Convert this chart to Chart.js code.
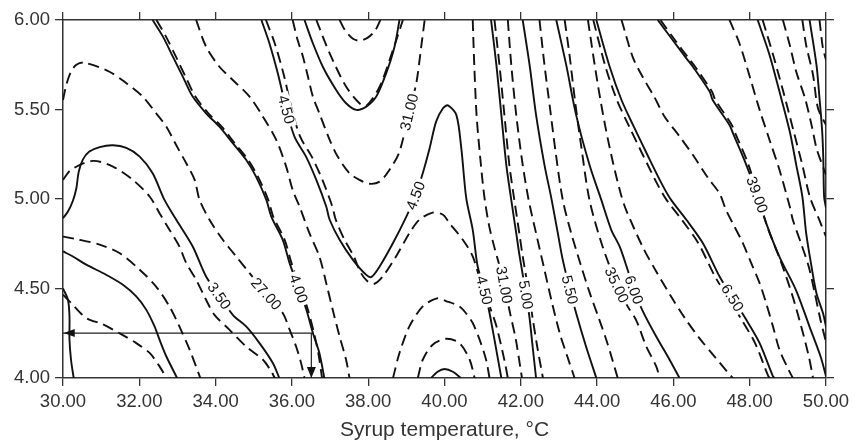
<!DOCTYPE html>
<html><head><meta charset="utf-8">
<script src="https://cdn.jsdelivr.net/npm/chart.js@4.4.0/dist/chart.umd.min.js"></script>
<style>html,body{margin:0;padding:0;background:#fff}canvas{display:block}</style>
</head><body>
<canvas id="c" width="861" height="444"></canvas>
<script>
// ---- axes ----
const xTickValues = [30,32,34,36,38,40,42,44,46,48,50];
const yTickValues = [4.0,4.5,5.0,5.5,6.0];
const xTitle = 'Syrup temperature, \u00B0C';

// ---- solid contours (response 1) ----
const s250 = [[30.0,4.50],[30.13,4.437],[30.17,4.344],[30.17,4.214],[30.21,4.102],[30.28,4.0]];
const s300 = [[30.0,4.707],[30.26,4.679],[30.61,4.633],[31.13,4.577],[31.57,4.521],[31.92,4.456],[32.18,4.382],[32.40,4.288],[32.53,4.214],[32.71,4.12],[32.99,4.0]];
const s350 = [[30.0,4.893],[30.13,4.93],[30.26,4.99],[30.35,5.06],[30.41,5.15],[30.52,5.22],[30.69,5.265],[30.96,5.29],[31.31,5.30],[31.66,5.285],[32.01,5.237],[32.35,5.144],[32.66,4.995],[32.97,4.884],[33.40,4.735],[33.75,4.567],[34.10,4.46],[34.45,4.353],[34.80,4.288],[35.15,4.195],[35.50,4.084],[35.67,4.0]];
const s400 = [[32.35,6.0],[32.62,5.907],[32.88,5.795],[33.14,5.684],[33.40,5.572],[33.75,5.479],[34.10,5.404],[34.45,5.312],[34.80,5.219],[35.06,5.125],[35.33,4.995],[35.46,4.902],[35.76,4.772],[35.94,4.642],[36.18,4.50],[36.38,4.381],[36.55,4.251],[36.72,4.14],[36.85,4.0]];
const s450 = [[35.20,6.0],[35.41,5.870],[35.63,5.702],[35.86,5.498],[36.07,5.347],[36.37,5.237],[36.64,5.107],[36.90,4.958],[36.99,4.884],[37.25,4.772],[37.60,4.660],[37.95,4.576],[38.09,4.565],[38.30,4.623],[38.65,4.754],[39.00,4.902],[39.24,5.018],[39.43,5.144],[39.61,5.284],[39.78,5.432],[39.96,5.507],[40.09,5.523],[40.31,5.470],[40.44,5.284],[40.57,5.005],[40.74,4.828],[40.87,4.623],[41.05,4.493],[41.18,4.363],[41.31,4.214],[41.49,4.0]];
const s500a = [[36.33,6.0],[36.55,5.870],[36.81,5.739],[37.16,5.609],[37.42,5.535],[37.69,5.498],[37.95,5.516],[38.21,5.572],[38.47,5.702],[38.69,5.851],[38.82,6.0]];
const s500b = [[39.65,4.0],[39.82,4.035],[40.0,4.05],[40.22,4.035],[40.43,4.0]];
const s500 = [[41.22,6.0],[41.36,5.749],[41.49,5.470],[41.62,5.191],[41.75,4.995],[41.88,4.809],[41.97,4.679],[42.14,4.465],[42.23,4.335],[42.31,4.176],[42.40,4.0]];
const s550 = [[42.05,6.0],[42.23,5.749],[42.40,5.470],[42.62,5.191],[42.80,5.005],[42.97,4.809],[43.10,4.660],[43.29,4.493],[43.45,4.363],[43.71,4.176],[43.98,4.0]];
const s600 = [[42.93,6.0],[43.19,5.749],[43.45,5.470],[43.80,5.191],[44.11,4.995],[44.37,4.828],[44.59,4.735],[44.80,4.605],[44.97,4.493],[45.20,4.372],[45.55,4.232],[45.90,4.102],[46.16,4.0]];
const s650 = [[43.98,6.0],[44.33,5.739],[44.64,5.553],[44.94,5.414],[45.32,5.246],[45.71,5.079],[45.94,4.995],[46.34,4.884],[46.77,4.754],[47.21,4.567],[47.55,4.449],[47.91,4.325],[48.26,4.195],[48.61,4.009],[48.65,4.0]];
const s700 = [[45.59,6.0],[45.98,5.888],[46.34,5.786],[46.51,5.739],[46.95,5.600],[47.03,5.553],[47.47,5.414],[47.56,5.368],[47.91,5.191],[48.20,5.024],[48.43,4.867],[48.78,4.677],[49.21,4.493],[49.57,4.286],[49.86,4.119],[50.0,4.01]];
const s750 = [[48.21,6.0],[48.52,5.805],[48.78,5.600],[49.05,5.377],[49.22,5.191],[49.38,5.014],[49.48,4.809],[49.62,4.623],[49.75,4.474],[49.92,4.363],[50.0,4.288]];
const s800 = [[49.57,6.0],[49.75,5.749],[49.83,5.563],[49.90,5.377],[49.93,5.219],[49.95,5.014],[50.0,4.95]];

// ---- dashed contours (response 2) ----
const d27 = [[30.0,5.553],[30.09,5.64],[30.21,5.711],[30.35,5.75],[30.56,5.762],[31.22,5.711],[31.66,5.647],[32.09,5.572],[32.44,5.479],[32.71,5.404],[32.97,5.30],[33.23,5.20],[33.45,5.107],[33.58,4.995],[33.84,4.884],[34.19,4.772],[34.54,4.679],[34.89,4.586],[35.33,4.47],[35.76,4.363],[35.94,4.270],[36.11,4.176],[36.24,4.084],[36.33,4.0]];
const d25 = [[30.0,5.107],[30.21,5.163],[30.78,5.213],[31.31,5.181],[31.83,5.107],[32.27,5.014],[32.53,4.921],[32.79,4.828],[33.05,4.735],[33.23,4.642],[33.49,4.549],[33.75,4.437],[33.97,4.353],[34.36,4.270],[34.80,4.176],[35.24,4.102],[35.45,4.04],[35.55,4.0]];
const d23 = [[30.0,4.79],[30.35,4.776],[30.96,4.745],[31.48,4.698],[32.01,4.605],[32.44,4.511],[32.79,4.40],[33.05,4.288],[33.32,4.158],[33.60,4.0]];
const d21 = [[30.0,4.465],[30.21,4.42],[30.61,4.335],[31.04,4.30],[31.48,4.25],[31.92,4.195],[32.27,4.14],[32.53,4.065],[32.71,4.0]];
const d29a = [[32.45,6.0],[32.70,5.907],[32.96,5.795],[33.21,5.684],[33.47,5.572],[33.81,5.479],[34.16,5.404],[34.50,5.312],[34.85,5.219],[35.11,5.125],[35.38,4.995],[35.51,4.902],[35.81,4.772],[35.99,4.642],[36.23,4.50],[36.42,4.381],[36.58,4.251],[36.70,4.13],[36.79,4.0]];
const d29b = [[33.49,6.0],[33.75,5.851],[34.10,5.739],[34.45,5.665],[34.89,5.572],[35.24,5.460],[35.59,5.330],[35.85,5.181],[36.02,5.051],[36.20,4.958],[36.46,4.809],[36.72,4.679],[36.90,4.530],[37.07,4.381],[37.25,4.232],[37.42,4.102],[37.51,4.0]];
const d30 = [[35.32,6.0],[35.55,5.87],[35.78,5.70],[36.00,5.50],[36.22,5.347],[36.52,5.237],[36.80,5.107],[37.06,4.958],[37.15,4.884],[37.38,4.772],[37.62,4.68],[37.80,4.59],[37.98,4.54],[38.15,4.525],[38.38,4.567],[38.73,4.679],[39.08,4.809],[39.34,4.884],[39.69,4.924],[39.96,4.912],[40.13,4.865],[40.48,4.772],[40.74,4.679],[41.0,4.50],[41.2,4.39],[41.36,4.29],[41.57,4.10],[41.66,4.0]];
const d31a = [[36.02,6.0],[36.15,5.888],[36.29,5.795],[36.42,5.684],[36.55,5.572],[36.72,5.479],[36.99,5.330],[37.20,5.237],[37.51,5.144],[37.77,5.107],[38.03,5.085],[38.30,5.097],[38.56,5.163],[38.82,5.265],[39.07,5.486],[39.26,5.647],[39.39,5.851],[39.48,6.0]];
const d32 = [[36.64,6.0],[36.99,5.814],[37.42,5.628],[37.77,5.535],[37.95,5.520],[38.30,5.628],[38.65,5.833],[38.91,6.0]];
const d33 = [[37.25,6.0],[37.40,5.94],[37.60,5.895],[37.77,5.885],[37.98,5.90],[38.18,5.94],[38.32,6.0]];
const d29c = [[38.65,4.0],[38.82,4.14],[39.08,4.288],[39.43,4.40],[39.80,4.445],[40.04,4.43],[40.39,4.40],[40.57,4.36],[40.74,4.307],[40.92,4.214],[41.09,4.102],[41.18,4.0]];
const d28 = [[39.30,4.0],[39.43,4.102],[39.69,4.186],[40.04,4.219],[40.39,4.195],[40.66,4.102],[40.79,4.0]];
const d31b = [[40.74,6.0],[40.78,5.75],[40.84,5.47],[40.93,5.246],[41.04,5.02],[41.17,4.85],[41.32,4.72],[41.45,4.62],[41.57,4.521],[41.70,4.381],[41.87,4.214],[42.03,4.0]];
const d32b = [[41.31,6.0],[41.44,5.749],[41.57,5.47],[41.70,5.19],[41.83,4.995],[41.96,4.81],[42.05,4.68],[42.22,4.465],[42.31,4.335],[42.43,4.176],[42.58,4.0]];
const d33b = [[41.66,6.0],[41.75,5.749],[41.88,5.470],[42.03,5.22],[42.20,5.0],[42.40,4.809],[42.60,4.623],[42.80,4.437],[43.02,4.251],[43.22,4.12],[43.41,4.0]];
const d34 = [[42.49,6.0],[42.62,5.75],[42.77,5.50],[42.92,5.25],[43.10,4.995],[43.32,4.81],[43.56,4.64],[43.80,4.48],[44.06,4.325],[44.24,4.214],[44.40,4.102],[44.54,4.0]];
const d35 = [[43.15,6.0],[43.28,5.80],[43.42,5.55],[43.58,5.30],[43.80,4.995],[44.12,4.75],[44.52,4.521],[44.80,4.40],[45.02,4.325],[45.29,4.176],[45.55,4.065],[45.64,4.0]];
const d36 = [[43.76,6.0],[43.90,5.80],[44.05,5.60],[44.22,5.40],[44.42,5.20],[44.62,5.03],[44.76,4.939],[45.20,4.73],[45.55,4.595],[45.94,4.455],[46.30,4.335],[46.68,4.223],[47.08,4.12],[47.43,4.03],[47.56,4.0]];
const d37 = [[43.90,6.0],[44.22,5.739],[44.52,5.553],[44.82,5.414],[45.20,5.246],[45.59,5.079],[45.82,4.995],[46.22,4.884],[46.65,4.754],[47.09,4.567],[47.43,4.449],[47.79,4.325],[48.14,4.195],[48.49,4.009],[48.53,4.0]];
const d38 = [[44.64,6.0],[44.94,5.79],[45.20,5.68],[45.50,5.57],[45.77,5.46],[46.16,5.35],[46.53,5.24],[46.90,5.12],[47.21,5.03],[47.38,4.939],[47.60,4.846],[47.82,4.754],[48.04,4.642],[48.26,4.530],[48.43,4.419],[48.61,4.288],[48.78,4.158],[49.02,4.046],[49.13,4.0]];
const d39 = [[45.66,6.0],[46.04,5.888],[46.40,5.786],[46.57,5.739],[47.01,5.60],[47.10,5.553],[47.53,5.414],[47.62,5.368],[47.97,5.191],[48.20,5.024],[48.46,4.846],[48.80,4.66],[49.10,4.474],[49.35,4.288],[49.55,4.12],[49.66,4.0]];
const d40 = [[47.47,6.0],[47.73,5.870],[48.0,5.684],[48.26,5.498],[48.52,5.330],[48.78,5.163],[49.05,4.958],[49.13,4.884],[49.35,4.75],[49.55,4.62],[49.70,4.48],[49.85,4.33],[50.0,4.20]];
const d41 = [[48.34,6.0],[48.62,5.80],[48.88,5.60],[49.15,5.38],[49.38,5.19],[49.58,5.01],[49.83,4.88],[50.0,4.79]];
const d42 = [[48.87,6.0],[49.05,5.860],[49.22,5.711],[49.45,5.563],[49.62,5.414],[49.75,5.284],[49.87,5.209],[50.0,5.135]];
const d43 = [[49.38,6.0],[49.48,5.860],[49.66,5.693],[49.79,5.507],[50.0,5.414]];
const d44 = [[49.83,6.0],[49.92,5.842],[50.0,5.777]];

// ---- contour labels: text, x, y, angle(deg) ----
const contourLabels = [
  ['3.50',34.10,4.46,55],['27.00',35.33,4.47,48],['4.00',36.18,4.50,70],
  ['4.50',35.86,5.50,75],['31.00',39.07,5.486,-76],['4.50',39.24,5.02,-69],
  ['4.50',41.05,4.49,76],['31.00',41.57,4.52,80],['5.00',42.14,4.465,81],
  ['5.50',43.29,4.493,76],['35.00',44.52,4.52,65],['6.00',44.97,4.493,70],
  ['6.50',47.55,4.449,58],['39.00',48.20,5.024,70]
];

// ---- reading arrows ----
const arrowPath = [[30.0,4.251],[36.51,4.251],[36.51,4.0]];
const arrowHeads = [[30.02,4.251,'left'],[36.51,4.0,'down']];

const solidLines = [s250,s300,s350,s400,s450,s500a,s500b,s500,s550,s600,s650,s700,s750,s800];
const dashedLines = [d27,d25,d23,d21,d29a,d29b,d30,d31a,d32,d33,d29c,d28,d31b,d32b,d33b,d34,d35,d36,d37,d38,d39,d40,d41,d42,d43,d44];

const toXY = a => a.map(([x,y]) => ({x,y}));
const datasets = [];
solidLines.forEach(l => datasets.push({data:toXY(l),showLine:true,borderColor:'#111',borderWidth:1.9,pointRadius:0,tension:0.3,fill:false}));
dashedLines.forEach(l => datasets.push({data:toXY(l),showLine:true,borderColor:'#111',borderWidth:1.9,borderDash:[11,6],pointRadius:0,tension:0.3,fill:false}));
datasets.push({data:toXY(arrowPath),showLine:true,borderColor:'#222',borderWidth:1.2,pointRadius:0,tension:0,fill:false});

const overlay = {
  id:'overlay',
  afterDatasetsDraw(chart){
    const {ctx, scales:{x,y}} = chart;
    ctx.save();
    ctx.fillStyle = '#111';
    arrowHeads.forEach(([hx,hy,dir])=>{
      const px = x.getPixelForValue(hx), py = y.getPixelForValue(hy);
      ctx.beginPath();
      if (dir==='left'){ ctx.moveTo(px,py); ctx.lineTo(px+11,py-4); ctx.lineTo(px+11,py+4); }
      else { ctx.moveTo(px,py); ctx.lineTo(px-4.5,py-11); ctx.lineTo(px+4.5,py-11); }
      ctx.closePath(); ctx.fill();
    });
    ctx.font = '15px "Liberation Sans", Arial, sans-serif';
    ctx.textAlign = 'center'; ctx.textBaseline = 'middle';
    contourLabels.forEach(([t,lx,ly,ang])=>{
      const px = x.getPixelForValue(lx), py = y.getPixelForValue(ly);
      ctx.save(); ctx.translate(px,py); ctx.rotate(ang*Math.PI/180);
      const w = ctx.measureText(t).width;
      ctx.fillStyle = '#fff'; ctx.fillRect(-w/2-3,-6,w+6,12);
      ctx.fillStyle = '#111'; ctx.fillText(t,0,1);
      ctx.restore();
    });
    ctx.restore();
  }
};

const tickFont = {family:'"Liberation Sans", Arial, sans-serif', size:18.5};
const titleFont = {family:'"Liberation Sans", Arial, sans-serif', size:21};
function axis(pos, vals, min, max, showLabels, size){
  return {
    type:'linear', position:pos, min, max,
    afterBuildTicks: s => { s.ticks = vals.map(v => ({value:v})); },
    afterFit: s => { if (pos==='left'||pos==='right') s.width = size; else s.height = size; },
    ticks:{display:showLabels, font:tickFont, color:'#333', padding:5, maxRotation:0, autoSkip:false,
      callback: v => Number(v).toFixed(2)},
    grid:{display:true, drawOnChartArea:false, drawTicks:true, tickLength:8, color:'#333', lineWidth:1.3},
    border:{display:true, color:'#333', width:1.5}
  };
}
const xs = axis('bottom', xTickValues, 30, 50, true, 66);
xs.title = {display:true, text:xTitle, font:titleFont, color:'#333', padding:{top:0,bottom:1}};
const x2 = axis('top', xTickValues, 30, 50, false, 20);
const ys = axis('left', yTickValues, 4, 6, true, 63);
const y2 = axis('right', yTickValues, 4, 6, false, 35);

new Chart(document.getElementById('c'), {
  type:'scatter',
  data:{datasets},
  options:{
    responsive:false, animation:false, devicePixelRatio:1,
    layout:{padding:0},
    plugins:{legend:{display:false}, tooltip:{enabled:false}},
    scales:{x:xs, x2:x2, y:ys, y2:y2}
  },
  plugins:[overlay]
});
</script>
</body></html>
